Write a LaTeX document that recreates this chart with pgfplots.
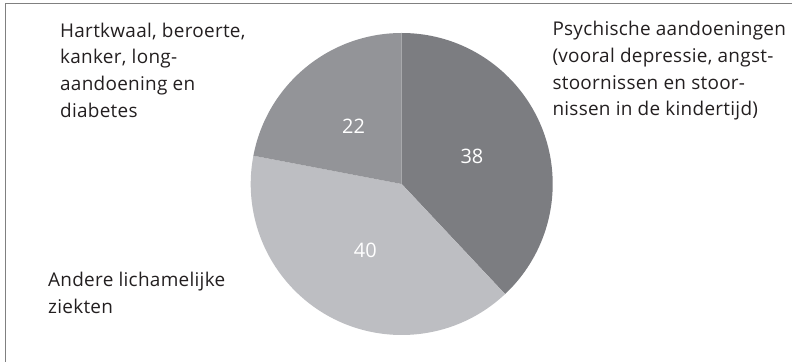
\documentclass[border=0pt]{standalone}
\usepackage{pgfplots}
\usepackage{pgfplotstable}
\pgfplotsset{compat=1.18}
\usetikzlibrary{calc}
\usepackage{fontspec}
\setmainfont{Open Sans}
\newfontfamily\lblfont[LetterSpace=1.5]{Open Sans}
\definecolor{sliceA}{RGB}{124,125,129}
\definecolor{sliceB}{RGB}{189,190,194}
\definecolor{sliceC}{RGB}{147,148,152}
\definecolor{txt}{RGB}{35,31,32}
\definecolor{frame}{RGB}{128,128,128}
\pgfplotstableread{
label value
Psychisch 38
Andere 40
Hartkwaal 22
}\piedata
\begin{document}
\begin{tikzpicture}
\pgfplotstablegetelem{0}{value}\of\piedata \edef\va{\pgfplotsretval}
\pgfplotstablegetelem{1}{value}\of\piedata \edef\vb{\pgfplotsretval}
\pgfplotstablegetelem{2}{value}\of\piedata \edef\vc{\pgfplotsretval}
\pgfmathsetmacro\aA{90-3.6*\va}
\pgfmathsetmacro\aB{\aA-3.6*\vb}
\pgfmathsetmacro\aC{\aB-3.6*\vc}
\pgfmathsetmacro\mA{(90+\aA)/2}
\pgfmathsetmacro\mB{(\aA+\aB)/2}
\pgfmathsetmacro\mC{(\aB+\aC)/2}
\useasboundingbox (0,0) rectangle (792bp,362bp);
\begin{axis}[at={(0,0)},anchor=south west,scale only axis,
  width=792bp,height=362bp,xmin=0,xmax=792,ymin=0,ymax=362,
  hide axis,clip=false]
\draw[frame,line width=1bp] (axis cs:5,0) -- (axis cs:5,358) -- (axis cs:792,358);
\fill[sliceA] (axis cs:401.7,178) -- ++(90:151bp) arc[start angle=90,end angle=\aA,radius=151bp] -- cycle;
\fill[sliceB] (axis cs:401.7,178) -- ++(\aA:151bp) arc[start angle=\aA,end angle=\aB,radius=151bp] -- cycle;
\fill[sliceC] (axis cs:401.7,178) -- ++(\aB:151bp) arc[start angle=\aB,end angle=\aC,radius=151bp] -- cycle;
\node[white,font=\fontsize{20}{22}\selectfont] at ($(axis cs:401.7,178)+(\mA:75.5bp)$) {\va};
\node[white,font=\fontsize{20}{22}\selectfont] at ($(axis cs:401.7,178)+(\mB:75.5bp)$) {\vb};
\node[white,font=\fontsize{20}{22}\selectfont] at ($(axis cs:401.7,178)+(\mC:75.5bp)$) {\vc};
\tikzset{lbl/.style={anchor=base west,inner sep=0pt,text=txt,font=\lblfont\fontsize{19}{22}\selectfont}}
\node[lbl] at (axis cs:60,324.3) {Hartkwaal, beroerte,};
\node[lbl] at (axis cs:60,298) {kanker, long-};
\node[lbl] at (axis cs:60,271.3) {aandoening en};
\node[lbl] at (axis cs:60,244) {diabetes};
\node[lbl] at (axis cs:552.3,326) {Psychische aandoeningen};
\node[lbl] at (axis cs:552.3,299.3) {(vooral depressie, angst-};
\node[lbl] at (axis cs:552.3,272.7) {stoornissen en stoor-};
\node[lbl] at (axis cs:552.3,246) {nissen in de kindertijd)};
\node[lbl] at (axis cs:48,75.3) {Andere lichamelijke};
\node[lbl] at (axis cs:48,48.7) {ziekten};
\end{axis}
\end{tikzpicture}
\end{document}
